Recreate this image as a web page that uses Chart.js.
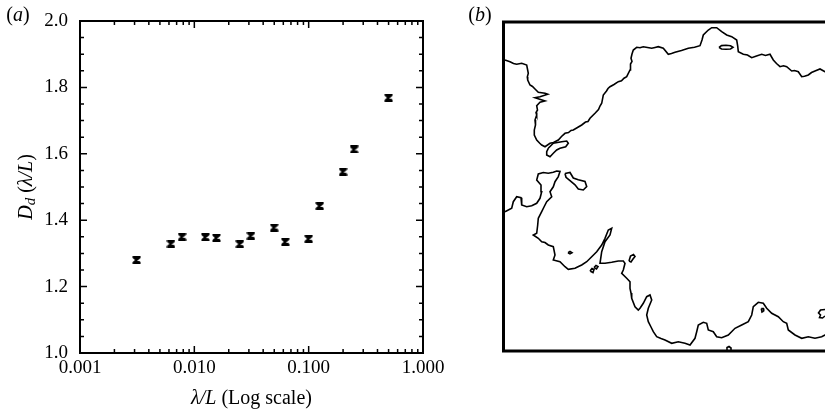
<!DOCTYPE html>
<html><head><meta charset="utf-8">
<script src="https://cdn.jsdelivr.net/npm/chart.js@4.4.1/dist/chart.umd.min.js"></script>
<style>
html,body{margin:0;padding:0;background:#fff;overflow:hidden;width:825px;height:415px;}
#wa{position:absolute;left:0;top:0;width:460px;height:415px;}
#wb{position:absolute;left:460px;top:0;width:390px;height:415px;}
</style></head><body>
<div id="wa"><canvas id="ca" width="460" height="415"></canvas></div>
<div id="wb"><canvas id="cb" width="390" height="415"></canvas></div>
<script>
// ---------- Panel (a) data ----------
const lambdaOverL = [0.003125, 0.00625, 0.0078125, 0.0125, 0.015625, 0.025, 0.03125, 0.05, 0.0625, 0.1, 0.125, 0.2, 0.25, 0.5];
const dimensionDd = [1.280, 1.329, 1.350, 1.349, 1.347, 1.328, 1.353, 1.378, 1.335, 1.344, 1.443, 1.546, 1.613, 1.769];
const xTickValues = [0.001, 0.01, 0.1, 1];
const xTickLabels = ['0.001', '0.010', '0.100', '1.000'];
const yTickValues = [1.0, 1.2, 1.4, 1.6, 1.8, 2.0];
const yTickLabels = ['1.0', '1.2', '1.4', '1.6', '1.8', '2.0'];
const yMinorStep = 0.05;

// ---------- Panel (b) data: interface contours (frame units) ----------
const contourUpper = [[1.5,38],[6.5,39.7],[10,41.5],[13.2,42.3],[18.2,41.3],[23.2,43],[24.8,51.3],[23.8,55],[24.2,58],[26.5,63],[29,64.5],[31.5,67],[34.8,70.3],[41.5,71.3],[44.2,72.3],[36.5,74.7],[31.5,75.7],[41.5,79],[36.5,80.3],[33.2,83.7],[34,88],[32.5,90.5],[33.2,93],[31.5,98],[32,103],[30.8,108],[30.8,113],[33.2,118],[36,121],[38.2,123],[41.5,124.7],[46.5,121.3],[50,120.5],[54.8,118],[58,114.5],[61.5,111.3],[65,110.5],[67.5,108.5],[69.8,108],[74,105.5],[78.2,103],[82,100],[84.5,99.5],[86.5,96.3],[91.5,91.3],[95,87.5],[96.5,84],[98.2,81.3],[99.8,73],[103,69],[104.5,66.5],[106.5,64.7],[110.5,62.5],[114.8,59.7],[118,58.8],[120.5,56.2],[123.2,54.7],[126.5,48],[127,42],[128.5,39.5],[127.5,36.3],[128.5,32],[129.8,28],[133.2,25.3],[136.5,25.8],[139.8,24.7],[144,25.5],[148.2,26.3],[151.5,25.5],[154.8,24.7],[159.8,26.3],[164.8,32.3],[168,31.5],[171.5,30.3],[178,28.5],[184.8,26.3],[191,25.2],[196.5,23.7],[198.5,18],[199.8,13],[204.8,8],[208.2,5.7],[213.2,5.7],[218.2,9.7],[223.2,13],[228.2,14.7],[233.2,18],[234.2,24],[234.8,29.7],[239.8,32.3],[244,33],[248.2,35.7],[253,34],[258.2,32.3],[262,33.5],[266.5,32.3],[269.8,38],[273,41.5],[276.5,44.7],[280,43.8],[283.2,44.7],[288.2,49],[291,48.5],[294.8,49.7],[298.2,54.7],[301,54.3],[304.8,53],[308,50.5],[311.5,49],[316.5,47],[321.5,49.7],[330,52],[336,55]];
const contourLower = [[1.5,189.7],[8.2,186.3],[9.8,179.7],[13.2,174.7],[17.5,175.7],[18.2,183],[23.2,184.7],[28.2,183.7],[33.2,181.3],[36.5,176.3],[38.2,169.7],[37.5,163],[33.2,158],[34.8,152],[39.8,150.5],[44.8,151.3],[49.8,150.3],[53.2,149],[56.5,149.5],[54.8,154.6],[51.5,159.7],[49.8,164.8],[46.5,169.7],[48.2,174.7],[43.2,179.7],[40.5,185],[38.2,189.7],[34.8,196.3],[34.2,203],[33.2,211.3],[29.8,213],[34.8,216.3],[38.2,219.7],[41.5,220.5],[44.8,223],[49.8,224.7],[51.5,233],[49.8,238],[56.5,239.7],[61.5,244.7],[64.8,247.3],[71.5,246.3],[75,244.5],[78.2,243],[83.2,239.7],[88.2,234.7],[93.2,229.7],[98.2,223],[101.5,216.3],[104.8,208],[108.2,206.3],[106.5,213],[101.5,219.7],[98.2,229.7],[96.5,241.3],[101.5,241.3],[108.2,240.3],[114.8,239],[119.8,239],[121.5,241.3],[119.8,248],[118.2,251.3],[123.2,256.3],[126.5,259.7],[126.5,266.3],[127.5,271],[128.2,276.3],[131.5,284.7],[134.8,288],[136.5,286.3],[139.8,281.3],[143.2,274.7],[146.5,273],[148.2,278],[144.8,286.3],[143.2,293],[144.8,299.7],[147.5,305],[149.8,309.7],[153.2,314.7],[157.5,316.5],[161.5,318],[168.2,321.3],[174.8,319.7],[181.5,321.3],[186.5,323],[191.5,316.3],[193.2,309.7],[194.8,303],[199.8,300.3],[203.2,301.3],[204.8,308],[209.8,309.7],[213.2,314.7],[218.2,315.7],[224.8,313],[231.5,306.3],[238.2,303],[244.8,299.7],[248.2,293],[249.8,284.7],[254.8,280.3],[259.8,281.3],[263.2,286.3],[268.2,291.3],[274.8,294.7],[279.8,299.7],[283.2,301.3],[284.8,308],[291.5,313],[298.2,316.3],[304.8,314.7],[311.5,316.3],[318.2,314.7],[321.5,313],[330,310],[336,306]];
const islandTop = [[215.5,25.3],[218,23.6],[222.5,23.3],[227,23.8],[229.5,25.3],[227,27],[222.5,27.2],[218,27],[215.5,25.3]];
const islandUpperLoop = [[44.8,126.3],[49.8,121.3],[58.2,119.7],[63.2,119],[64.8,121.3],[62.2,124.7],[56.5,126.3],[53.2,128],[49.8,131.3],[46.5,134.7],[43.2,133],[43.2,129.7],[44.8,126.3]];
const islandBay = [[61.5,151.5],[66.5,150.5],[69.8,156],[74.8,157.7],[81.5,159.4],[83.2,164.6],[79.8,168],[74.8,167],[71.5,162.8],[66.5,158.7],[62.5,155.3],[61.5,151.5]];
const islandDot = [[64.5,230.7],[66.5,229.5],[68.5,230.7],[66.5,231.9],[64.5,230.7]];
const islandMidA = [[86.5,249],[88.5,246.5],[90.5,247.5],[89.5,250.5],[86.5,249]];
const islandMidB = [[90.5,245.5],[92.5,243.5],[94.5,244.5],[93,247],[90.5,245.5]];
const islandFlag = [[125.5,239],[127,234],[130,232.5],[131.5,234.5],[129.5,237],[127.5,240],[125.5,239]];
const islandSmallRight = [[257.8,286.5],[259.8,286.5],[260.2,289],[258.5,290],[257.8,286.5]];
const islandBottomEdge = [[223.5,329],[223.5,325.5],[225.5,324.5],[227.5,326],[227.5,329]];
const islandRightEdge = [[321.5,287.5],[317,288],[315,291],[317,293],[316,295.5],[319,296],[321.5,294]];

const SERIF = '"Liberation Serif", "Times New Roman", serif';

function makeMarker() {
  const c = document.createElement('canvas');
  c.width = 9; c.height = 8;
  const g = c.getContext('2d');
  g.strokeStyle = '#000'; g.lineWidth = 2;
  g.beginPath();
  g.moveTo(1.2, 1.2); g.lineTo(7.8, 6.8);
  g.moveTo(7.8, 1.2); g.lineTo(1.2, 6.8);
  g.moveTo(0.5, 1); g.lineTo(8.5, 1);
  g.moveTo(0.5, 7); g.lineTo(8.5, 7);
  g.moveTo(4.5, 1); g.lineTo(4.5, 7);
  g.stroke();
  return c;
}

function drawMixed(ctx, parts, x, y) {
  let total = 0;
  parts.forEach(p => { ctx.font = (p[1] ? 'italic ' : '') + p[2] + 'px ' + SERIF; total += ctx.measureText(p[0]).width; });
  let cx = x - total / 2;
  parts.forEach(p => {
    ctx.font = (p[1] ? 'italic ' : '') + p[2] + 'px ' + SERIF;
    ctx.fillText(p[0], cx, y + (p[3] || 0));
    cx += ctx.measureText(p[0]).width;
  });
}

const panelAPlugin = {
  id: 'panelA',
  afterDatasetsDraw(chart) {
    const {ctx, chartArea: a, scales: {x, y}} = chart;
    ctx.save();
    ctx.strokeStyle = '#000';
    ctx.lineWidth = 1.5;
    ctx.beginPath();
    for (let d = 0; d < xTickValues.length; d++) {
      const base = xTickValues[d];
      for (let m = 1; m <= 9; m++) {
        const v = base * m;
        if (v > xTickValues[xTickValues.length - 1] + 1e-12) break;
        const px = x.getPixelForValue(v);
        const len = (m === 1) ? 7 : 4;
        ctx.moveTo(px, a.bottom); ctx.lineTo(px, a.bottom - len);
        ctx.moveTo(px, a.top); ctx.lineTo(px, a.top + len);
      }
    }
    const yMin = yTickValues[0], yMax = yTickValues[yTickValues.length - 1];
    const nMinor = Math.round((yMax - yMin) / yMinorStep);
    for (let i = 0; i <= nMinor; i++) {
      const v = yMin + i * yMinorStep;
      const py = y.getPixelForValue(v);
      const len = (i % 4 === 0) ? 7 : 4;
      ctx.moveTo(a.left, py); ctx.lineTo(a.left + len, py);
      ctx.moveTo(a.right, py); ctx.lineTo(a.right - len, py);
    }
    ctx.stroke();
    ctx.lineWidth = 2;
    ctx.strokeRect(a.left, a.top, a.right - a.left, a.bottom - a.top);
    ctx.fillStyle = '#000';
    ctx.textBaseline = 'alphabetic';
    ctx.textAlign = 'left';
    drawMixed(ctx, [['\u03BB/L', true, 20], [' (Log scale)', false, 20]], (a.left + a.right) / 2, 404);
    ctx.save();
    ctx.translate(32, (a.top + a.bottom) / 2);
    ctx.rotate(-Math.PI / 2);
    drawMixed(ctx, [['D', true, 20], ['d', true, 15, 3], [' (', false, 20], ['\u03BB/L', true, 20], [')', false, 20]], 0, 0);
    ctx.restore();
    drawMixed(ctx, [['(', false, 20], ['a', true, 20], [')', false, 20]], 18, 21);
    ctx.restore();
  }
};

new Chart(document.getElementById('ca'), {
  type: 'scatter',
  data: {
    datasets: [{
      data: lambdaOverL.map((v, i) => ({x: v, y: dimensionDd[i]})),
      pointStyle: makeMarker(),
      pointRadius: 4,
      borderColor: '#000',
      backgroundColor: '#000',
      showLine: false
    }]
  },
  options: {
    responsive: false,
    animation: false,
    devicePixelRatio: 1,
    layout: {padding: {left: 0, right: 37, top: 21, bottom: 0}},
    plugins: {legend: {display: false}, tooltip: {enabled: false}},
    scales: {
      x: {
        type: 'logarithmic', position: 'bottom',
        min: xTickValues[0], max: xTickValues[xTickValues.length - 1],
        afterBuildTicks: s => { s.ticks = xTickValues.map(v => ({value: v, major: true})); },
        afterFit: s => { s.height = 62; s.paddingLeft = 0; s.paddingRight = 0; },
        grid: {display: false, drawTicks: false},
        border: {display: false},
        ticks: {
          padding: 4, color: '#000', autoSkip: false, maxRotation: 0, minRotation: 0,
          font: {family: SERIF, size: 19},
          callback: (v, i) => xTickLabels[i]
        }
      },
      y: {
        type: 'linear', position: 'left',
        min: yTickValues[0], max: yTickValues[yTickValues.length - 1],
        afterBuildTicks: s => { s.ticks = yTickValues.map(v => ({value: v})); },
        afterFit: s => { s.width = 80; s.paddingTop = 0; s.paddingBottom = 0; },
        grid: {display: false, drawTicks: false},
        border: {display: false},
        ticks: {
          padding: 12, color: '#000',
          font: {family: SERIF, size: 19},
          callback: (v, i) => yTickLabels[i]
        }
      }
    }
  },
  plugins: [panelAPlugin]
});

// ---------- Panel (b) ----------
const contours = [contourUpper, contourLower, islandTop, islandUpperLoop, islandBay, islandDot, islandMidA, islandMidB, islandFlag, islandSmallRight, islandBottomEdge, islandRightEdge];

const panelBPlugin = {
  id: 'panelB',
  afterDatasetsDraw(chart) {
    const {ctx, chartArea: a} = chart;
    ctx.save();
    ctx.strokeStyle = '#000';
    ctx.lineWidth = 3;
    ctx.strokeRect(a.left, a.top, a.right - a.left, a.bottom - a.top);
    ctx.fillStyle = '#000';
    ctx.textBaseline = 'alphabetic';
    drawMixed(ctx, [['(', false, 20], ['b', true, 20], [')', false, 20]], 20, 21);
    ctx.restore();
  }
};

new Chart(document.getElementById('cb'), {
  type: 'scatter',
  data: {
    datasets: contours.map(c => ({
      data: c.map(p => ({x: p[0], y: p[1]})),
      showLine: true, borderColor: '#000', borderWidth: 1.6,
      pointRadius: 0, fill: false, tension: 0
    }))
  },
  options: {
    responsive: false,
    animation: false,
    devicePixelRatio: 1,
    layout: {padding: {left: 43.5, right: 11.5, top: 22, bottom: 64}},
    plugins: {legend: {display: false}, tooltip: {enabled: false}},
    scales: {
      x: {type: 'linear', display: false, min: 0, max: 335},
      y: {type: 'linear', display: false, min: 0, max: 329, reverse: true}
    }
  },
  plugins: [panelBPlugin]
});
</script>
</body></html>
